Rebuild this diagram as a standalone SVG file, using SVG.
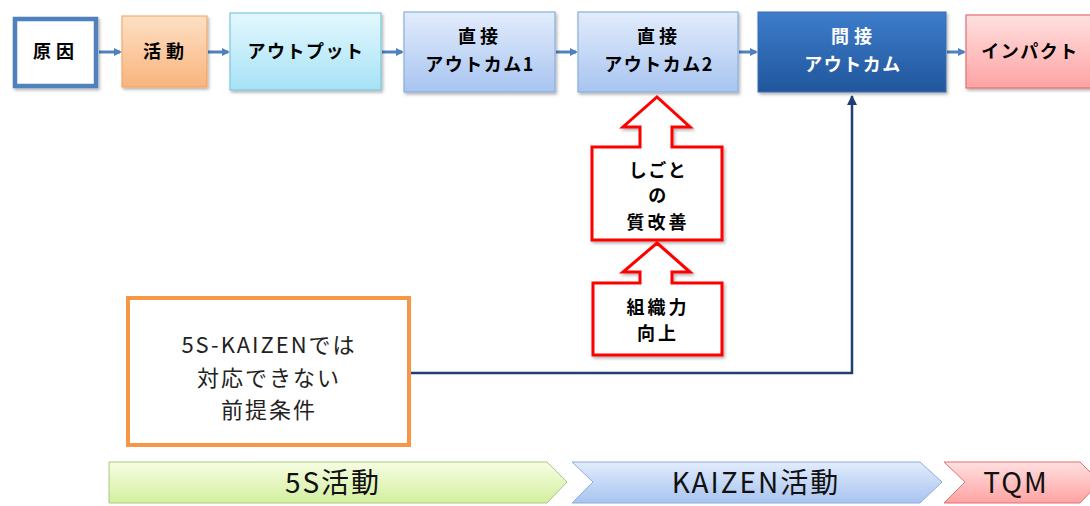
<svg xmlns="http://www.w3.org/2000/svg" width="1090" height="506" viewBox="0 0 1090 506">
<style>
.t{font-family:"Noto Sans CJK JP","Liberation Sans",sans-serif;font-weight:bold;font-size:18px;letter-spacing:1.5px;text-anchor:middle;fill:#000}
.w{fill:#fff}
.n{font-family:"Noto Sans CJK JP","Liberation Sans",sans-serif;font-size:22px;letter-spacing:2px;text-anchor:middle;fill:#222}
.b{font-family:"Noto Sans CJK JP","Liberation Sans",sans-serif;font-size:28px;letter-spacing:2px;text-anchor:middle;fill:#111}
.red{fill:#fff;stroke:#ff0000;stroke-width:3;filter:url(#sh)}
.flow{stroke:#4f81bd;stroke-width:3;fill:none;marker-end:url(#ah)}
</style>
<defs>
<filter id="sh" x="-10%" y="-10%" width="130%" height="130%"><feDropShadow dx="1.5" dy="2" stdDeviation="1.5" flood-color="#000" flood-opacity="0.3"/></filter>
<marker id="ah" markerWidth="8" markerHeight="8" refX="6" refY="4" orient="auto" markerUnits="userSpaceOnUse"><path d="M0,0 L8,4 L0,8 Z" fill="#4f81bd"/></marker>
<marker id="ah2" markerWidth="12" markerHeight="10" refX="9" refY="5" orient="auto" markerUnits="userSpaceOnUse"><path d="M0,0 L10,5 L0,10 Z" fill="#1f3f73"/></marker>
<linearGradient id="gOr" x1="0" y1="0" x2="0" y2="1"><stop offset="0" stop-color="#fde0c5"/><stop offset="1" stop-color="#f9b47c"/></linearGradient>
<linearGradient id="gCy" x1="0" y1="0" x2="0" y2="1"><stop offset="0" stop-color="#e3f8fe"/><stop offset="1" stop-color="#a7e2f6"/></linearGradient>
<linearGradient id="gBl" x1="0" y1="0" x2="0" y2="1"><stop offset="0" stop-color="#e2ecfc"/><stop offset="1" stop-color="#a8c4f0"/></linearGradient>
<linearGradient id="gDk" x1="0" y1="0" x2="0" y2="1"><stop offset="0" stop-color="#3d7dcb"/><stop offset="1" stop-color="#21569c"/></linearGradient>
<linearGradient id="gPk" x1="0" y1="0" x2="0" y2="1"><stop offset="0" stop-color="#ffe0e0"/><stop offset="1" stop-color="#ffa3a3"/></linearGradient>
<linearGradient id="gGr" x1="0" y1="0" x2="0" y2="1"><stop offset="0" stop-color="#f6fde2"/><stop offset="1" stop-color="#d3ef9f"/></linearGradient>
</defs>

<g id="connectors">
<line class="flow" x1="99" y1="52" x2="120" y2="52"/>
<line class="flow" x1="208" y1="52" x2="228" y2="52"/>
<line class="flow" x1="382" y1="52" x2="402" y2="52"/>
<line class="flow" x1="556" y1="52" x2="576" y2="52"/>
<line class="flow" x1="739" y1="52" x2="756" y2="52"/>
<line class="flow" x1="947" y1="52" x2="964" y2="52"/>
<path d="M410,373 H852 V96" fill="none" stroke="#1f3f73" stroke-width="2.5" marker-end="url(#ah2)"/>
</g>

<g id="n-cause">
<rect x="15" y="19" width="81" height="67" fill="#fff" stroke="#4f81bd" stroke-width="4.5" filter="url(#sh)"/>
<text class="t" x="56" y="58" style="letter-spacing:5px">原因</text>
</g>
<g id="n-activity">
<rect x="122" y="16" width="85" height="71" fill="url(#gOr)" stroke="#f0a060" stroke-width="1" filter="url(#sh)"/>
<text class="t" x="166" y="58" style="letter-spacing:5px">活動</text>
</g>
<g id="n-output">
<rect x="230" y="13" width="151" height="77" fill="url(#gCy)" stroke="#7ec7df" stroke-width="1.2" filter="url(#sh)"/>
<text class="t" x="306" y="58">アウトプット</text>
</g>
<g id="n-direct1">
<rect x="404" y="12" width="151" height="80" fill="url(#gBl)" stroke="#8aaedc" stroke-width="1.2" filter="url(#sh)"/>
<text class="t" x="480" y="43" style="letter-spacing:4px">直接</text>
<text class="t" x="480" y="71">アウトカム1</text>
</g>
<g id="n-direct2">
<rect x="578" y="12" width="160" height="80" fill="url(#gBl)" stroke="#8aaedc" stroke-width="1.2" filter="url(#sh)"/>
<text class="t" x="659" y="43" style="letter-spacing:4px">直接</text>
<text class="t" x="659" y="71">アウトカム2</text>
</g>
<g id="n-indirect">
<rect x="758" y="12" width="188" height="80" fill="url(#gDk)" stroke="#3a6fb0" stroke-width="1" filter="url(#sh)"/>
<text class="t w" x="854" y="43" style="letter-spacing:5px">間接</text>
<text class="t w" x="853" y="71">アウトカム</text>
</g>
<g id="n-impact">
<rect x="966" y="15" width="130" height="73" fill="url(#gPk)" stroke="#e07070" stroke-width="1.2" filter="url(#sh)"/>
<text class="t" x="1030" y="58">インパクト</text>
</g>

<g id="n-work">
<path class="red" d="M657,97 L690,127 L672,127 L672,147 L722,147 L722,240 L592,240 L592,147 L640,147 L640,127 L623,127 Z"/>
<text class="t" x="658" y="177">しごと</text>
<text class="t" x="658" y="202">の</text>
<text class="t" x="658" y="229" style="letter-spacing:3px">質改善</text>
</g>
<g id="n-org">
<path class="red" d="M657,243 L690,272 L672,272 L672,283 L722,283 L722,355 L593,355 L593,283 L640,283 L640,272 L623,272 Z"/>
<text class="t" x="658" y="314" style="letter-spacing:3px">組織力</text>
<text class="t" x="658" y="340" style="letter-spacing:3px">向上</text>
</g>

<g id="n-premise">
<rect x="128" y="298" width="281" height="147" fill="#fff" stroke="#f79646" stroke-width="4"/>
<text class="n" x="269" y="353">5S-KAIZENでは</text>
<text class="n" x="269" y="386">対応できない</text>
<text class="n" x="269" y="418">前提条件</text>
</g>

<g id="n-5s">
<path d="M109,462 L547,462 L567,482 L547,503 L109,503 Z" fill="url(#gGr)" stroke="#a9c97c" stroke-width="1"/>
<text class="b" x="333" y="493">5S活動</text>
</g>
<g id="n-kaizen">
<path d="M572,462 L920,462 L942,482 L920,503 L572,503 L593,482 Z" fill="url(#gBl)" stroke="#8aaedc" stroke-width="1"/>
<text class="b" x="756" y="493">KAIZEN活動</text>
</g>
<g id="n-tqm">
<path d="M944,462 L1080,462 L1100,482 L1080,503 L944,503 L965,482 Z" fill="url(#gPk)" stroke="#e07070" stroke-width="1"/>
<text class="b" x="1016" y="493">TQM</text>
</g>
</svg>
